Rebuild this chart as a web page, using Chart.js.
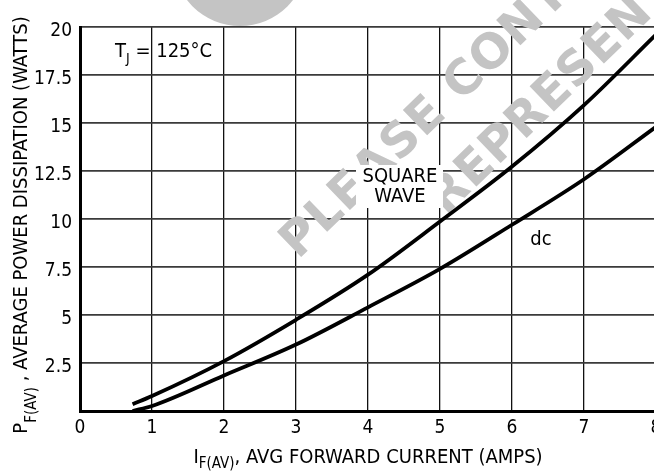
<!DOCTYPE html>
<html lang="en">
<head>
<meta charset="UTF-8">
<title>Average Power Dissipation vs Forward Current</title>
<script src="https://cdn.jsdelivr.net/npm/chart.js"></script>
<style>
    html, body { margin: 0; padding: 0; background: #fff; overflow: hidden; }
    #wrap { width: 654px; height: 472px; overflow: hidden; }
    canvas { display: block; }
</style>
</head>
<body>
<div id="wrap"><canvas id="powerChart" width="680" height="472" style="width:680px;height:472px"></canvas></div>
<script>
// values, x in amps, y in watts
const currentAmps     = [0.73, 1, 2, 3, 4, 5, 6, 7, 8];
const squareWaveWatts = [0.35, 0.78, 2.6, 4.75, 7.1, 9.87, 12.73, 15.93, 19.6];
const dcWatts         = [0.0, 0.26, 1.85, 3.46, 5.4, 7.4, 9.7, 12.07, 14.8];
const xTickValues = [0, 1, 2, 3, 4, 5, 6, 7, 8];
const yTickValues = [2.5, 5, 7.5, 10, 12.5, 15, 17.5, 20];

const FONT = '"Liberation Sans Narrow", "DejaVu Sans Condensed", Arial, sans-serif';
Chart.defaults.font.family = FONT;
Chart.defaults.color = '#000';

function toPoints(xs, ys) {
    return xs.map((x, i) => ({ x: x, y: ys[i] }));
}

// draw a run of text pieces: [text, size, baselineShift]
function drawRun(ctx, x, y, parts) {
    let cx = x;
    parts.forEach(p => {
        ctx.font = p[1] + 'px ' + FONT;
        ctx.fillText(p[0], cx, y + p[2]);
        cx += ctx.measureText(p[0]).width;
    });
}
function runWidth(ctx, parts) {
    let w = 0;
    parts.forEach(p => {
        ctx.font = p[1] + 'px ' + FONT;
        w += ctx.measureText(p[0]).width;
    });
    return w;
}

const decorations = {
    id: 'decorations',
    beforeDatasetsDraw(chart) {
        const ctx = chart.ctx;
        // grey watermark
        ctx.save();
        ctx.fillStyle = '#c4c4c4';
        ctx.beginPath();
        ctx.arc(240, -41, 67, 0, Math.PI * 2);
        ctx.fill();
        ctx.font = 'bold 48px "DejaVu Sans", sans-serif';
        ctx.letterSpacing = '1px';
        ctx.textAlign = 'left';
        ctx.textBaseline = 'alphabetic';
        ctx.translate(298, 260);
        ctx.rotate(-44 * Math.PI / 180);
        ctx.fillText('PLEASE CONTACT YOUR', 0, 0);
        ctx.fillText('REPRESENTATIVE FOR', 137, 71);
        ctx.restore();

        // SQUARE WAVE label with white box
        ctx.save();
        ctx.fillStyle = '#fff';
        ctx.fillRect(356, 165, 87, 43);
        ctx.fillStyle = '#000';
        ctx.font = '20px ' + FONT;
        ctx.textAlign = 'center';
        ctx.fillText('SQUARE', 400, 182);
        ctx.fillText('WAVE', 400, 202);
        ctx.restore();
    },
    afterDatasetsDraw(chart) {
        const ctx = chart.ctx;
        ctx.save();
        ctx.fillStyle = '#000';
        ctx.textAlign = 'left';
        ctx.textBaseline = 'alphabetic';

        drawRun(ctx, 115, 57, [['T', 20, 0], ['J', 14, 6], [' = 125°C', 20, 0]]);

        ctx.font = '20px ' + FONT;
        ctx.textAlign = 'center';
        ctx.fillText('dc', 541, 245);
        ctx.textAlign = 'left';

        // x axis title
        const xParts = [['I', 20, 0], ['F(AV)', 15, 5], [', AVG FORWARD CURRENT (AMPS)', 20, 0]];
        const xw = runWidth(ctx, xParts);
        drawRun(ctx, 368 - xw / 2, 463, xParts);

        // y axis title
        const yParts = [['P', 20, 0], ['F(AV)', 15, 9], [' , AVERAGE POWER DISSIPATION (WATTS)', 20, 0]];
        const yw = runWidth(ctx, yParts);
        ctx.translate(27, 225);
        ctx.rotate(-Math.PI / 2);
        drawRun(ctx, -yw / 2, 0, yParts);
        ctx.restore();
    }
};

new Chart(document.getElementById('powerChart'), {
    type: 'line',
    data: {
        datasets: [
            {
                label: 'Square Wave',
                data: toPoints(currentAmps, squareWaveWatts),
                borderColor: '#000',
                borderWidth: 3.8,
                pointRadius: 0,
                cubicInterpolationMode: 'monotone',
                fill: false
            },
            {
                label: 'dc',
                data: toPoints(currentAmps, dcWatts),
                borderColor: '#000',
                borderWidth: 3.8,
                pointRadius: 0,
                cubicInterpolationMode: 'monotone',
                fill: false
            }
        ]
    },
    options: {
        responsive: false,
        animation: false,
        layout: { padding: { left: 0, top: 27, right: 24, bottom: 0 } },
        plugins: {
            legend: { display: false },
            tooltip: { enabled: false }
        },
        scales: {
            x: {
                type: 'linear',
                min: 0,
                max: 8,
                afterFit(scale) { scale.height = 61; },
                afterBuildTicks(scale) { scale.ticks = xTickValues.map(v => ({ value: v })); },
                ticks: { font: { size: 19 }, padding: 6, maxRotation: 0 },
                grid: { color: '#111', lineWidth: 1.3, drawTicks: false },
                border: { color: '#000', width: 3 }
            },
            y: {
                type: 'linear',
                min: 0,
                max: 20,
                afterFit(scale) { scale.width = 80; },
                afterBuildTicks(scale) { scale.ticks = [0].concat(yTickValues).map(v => ({ value: v })); },
                ticks: {
                    font: { size: 19 },
                    padding: 8,
                    labelOffset: 4,
                    callback: v => (v === 0 ? '' : String(v))
                },
                grid: { color: '#3a3a3a', lineWidth: 1.8, drawTicks: false },
                border: { color: '#000', width: 3 }
            }
        }
    },
    plugins: [decorations]
});
</script>
</body>
</html>
